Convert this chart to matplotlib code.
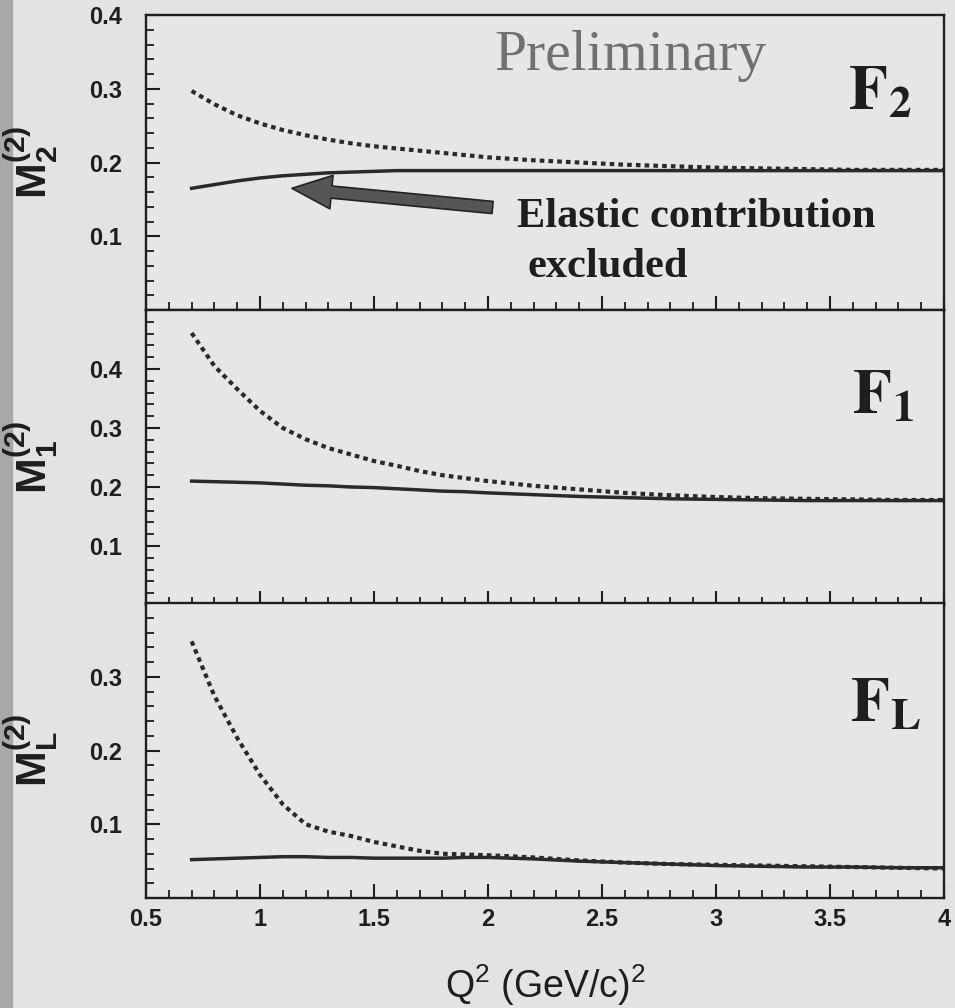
import matplotlib
matplotlib.use('Agg')
import matplotlib.pyplot as plt
from matplotlib.ticker import MultipleLocator
from matplotlib.patches import Rectangle

plt.rcParams['font.family'] = ['Liberation Sans', 'DejaVu Sans']
plt.rcParams['mathtext.fontset'] = 'custom'
plt.rcParams['mathtext.rm'] = 'Liberation Sans:bold'
plt.rcParams['mathtext.it'] = 'Liberation Sans:bold'
plt.rcParams['mathtext.bf'] = 'Liberation Sans:bold'

# Q^2 grid (GeV/c)^2
q2 = [0.7, 0.8, 0.9, 1.0, 1.1, 1.2, 1.3, 1.4, 1.5, 1.6, 1.7, 1.8, 1.9,
      2.0, 2.2, 2.4, 2.6, 2.8, 3.0, 3.2, 3.4, 3.6, 3.8, 4.0]

# second moments, dotted = elastic included, solid = elastic excluded
m2_dot = [0.297, 0.279, 0.264, 0.253, 0.244, 0.237, 0.231, 0.226, 0.222, 0.219, 0.216, 0.213, 0.210,
          0.207, 0.203, 0.200, 0.197, 0.195, 0.193, 0.192, 0.191, 0.190, 0.190, 0.190]
m2_sol = [0.165, 0.170, 0.175, 0.179, 0.182, 0.184, 0.186, 0.187, 0.188, 0.189, 0.189, 0.189, 0.189,
          0.189, 0.189, 0.189, 0.189, 0.189, 0.189, 0.189, 0.189, 0.189, 0.189, 0.189]

m1_dot = [0.461, 0.405, 0.366, 0.329, 0.300, 0.281, 0.266, 0.255, 0.244, 0.236, 0.227, 0.220, 0.215,
          0.210, 0.202, 0.196, 0.190, 0.186, 0.183, 0.181, 0.180, 0.179, 0.178, 0.178]
m1_sol = [0.210, 0.209, 0.208, 0.207, 0.205, 0.203, 0.202, 0.200, 0.199, 0.197, 0.195, 0.193, 0.192,
          0.190, 0.187, 0.184, 0.182, 0.180, 0.179, 0.178, 0.177, 0.177, 0.177, 0.177]

ml_dot = [0.348, 0.274, 0.217, 0.167, 0.127, 0.100, 0.090, 0.084, 0.076, 0.070, 0.064, 0.060, 0.059,
          0.058, 0.055, 0.051, 0.048, 0.046, 0.045, 0.044, 0.043, 0.042, 0.041, 0.040]
ml_sol = [0.052, 0.053, 0.054, 0.055, 0.056, 0.056, 0.055, 0.055, 0.054, 0.054, 0.054, 0.054, 0.055,
          0.055, 0.053, 0.050, 0.048, 0.046, 0.044, 0.043, 0.042, 0.042, 0.041, 0.041]

xticks = [0.5, 1, 1.5, 2, 2.5, 3, 3.5, 4]
xlabels = ['0.5', '1', '1.5', '2', '2.5', '3', '3.5', '4']

panels = [
    dict(dot=m2_dot, sol=m2_sol, ylim=(0, 0.4), yt=[0.1, 0.2, 0.3, 0.4],
         ylab=r'$\mathrm{M}_{2}^{(2)}$', tag=r'$\mathbf{F}_{\mathbf{2}}$', tagpos=(0.88, 0.678)),
    dict(dot=m1_dot, sol=m1_sol, ylim=(0, 0.5), yt=[0.1, 0.2, 0.3, 0.4],
         ylab=r'$\mathrm{M}_{1}^{(2)}$', tag=r'$\mathbf{F}_{\mathbf{1}}$', tagpos=(0.885, 0.648)),
    dict(dot=ml_dot, sol=ml_sol, ylim=(0, 0.4), yt=[0.1, 0.2, 0.3],
         ylab=r'$\mathrm{M}_{L}^{(2)}$', tag=r'$\mathbf{F}_{\mathbf{L}}$', tagpos=(0.882, 0.597)),
]

paper = '#e3e3e6'
ink = '#2a2a2a'

fig = plt.figure(figsize=(9.55, 10.08), dpi=100, facecolor=paper)
fig.add_artist(Rectangle((0, 0), 12 / 955, 1, transform=fig.transFigure,
                         color='#a8a8ab', zorder=0))

left, width = 146 / 955, 798 / 955
tops = [15, 310, 603]
h = 295 / 1008
axes = []
for i, p in enumerate(panels):
    bottom = 1 - (tops[i] + 295) / 1008
    ax = fig.add_axes([left, bottom, width, h])
    ax.set_facecolor('#e6e6e9')
    axes.append(ax)

    ax.plot(q2, p['dot'], color=ink, lw=3.0, linestyle=(0, (1.1, 1.0)))
    ax.plot(q2, p['sol'], color=ink, lw=2.5)

    ax.set_xlim(0.5, 4)
    ax.set_ylim(*p['ylim'])
    for s in ax.spines.values():
        s.set_linewidth(1.7)
        s.set_color('#1e1e1e')

    ax.xaxis.set_minor_locator(MultipleLocator(0.1))
    ax.yaxis.set_minor_locator(MultipleLocator(0.02))
    ax.set_yticks(p['yt'])
    ax.set_yticklabels([f'{v:g}' for v in p['yt']], fontweight='bold')
    ax.set_xticks(xticks)
    if i < 2:
        ax.set_xticklabels([''] + xlabels[1:-1] + [''], fontweight='bold')
    else:
        ax.set_xticklabels(xlabels, fontweight='bold')

    ax.tick_params(which='both', direction='in', top=False, right=False, colors='#1e1e1e')
    ax.tick_params(which='major', length=10, width=1.5, labelsize=17)
    ax.tick_params(axis='y', which='major', pad=17)
    ax.tick_params(axis='x', which='major', pad=7)
    ax.tick_params(which='minor', length=5.5, width=1.3)

    ax.set_ylabel(p['ylab'], fontsize=31, color='#1e1e1e')
    ax.yaxis.set_label_coords(-0.106, 0.5)

    ax.text(p['tagpos'][0], p['tagpos'][1], p['tag'], transform=ax.transAxes,
            fontsize=46, math_fontfamily='stix', color='#1e1e1e',
            ha='left', va='baseline')

top = axes[0]
top.text(0.437, 0.814, 'Preliminary', transform=top.transAxes, fontsize=41.5,
         family='Liberation Serif', color='#707072', ha='left', va='baseline')
top.text(2.127, 0.112, 'Elastic contribution', fontsize=30.5, family='Liberation Serif',
         fontweight='bold', color='#1e1e1e', ha='left', va='baseline')
top.text(2.175, 0.045, 'excluded', fontsize=30.5, family='Liberation Serif',
         fontweight='bold', color='#1e1e1e', ha='left', va='baseline')
top.annotate('', xy=(1.14, 0.165), xytext=(2.02, 0.139),
             arrowprops=dict(arrowstyle='simple,head_length=1.3,head_width=1.1,tail_width=0.4',
                             mutation_scale=22, fc='#555557', ec='#222222', lw=1.2,
                             shrinkA=0, shrinkB=0))

axes[2].set_xlabel(r'Q$^\mathregular{2}$ (GeV/c)$^\mathregular{2}$', fontsize=27,
                   color='#1e1e1e', labelpad=23)

fig.savefig('out.png', dpi=100, facecolor=paper)
